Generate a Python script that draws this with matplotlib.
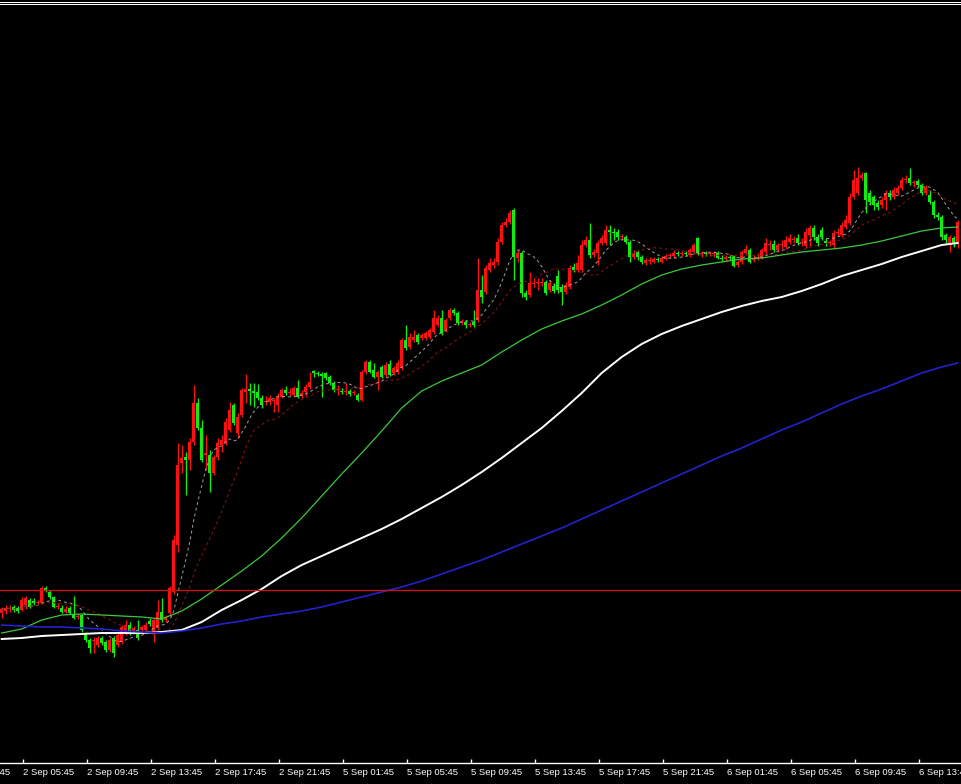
import numpy as np
import pandas as pd
import matplotlib
matplotlib.use("Agg")
import matplotlib.pyplot as plt
from matplotlib.lines import Line2D
from matplotlib.transforms import offset_copy

# ---- M15 candles (price units) ----
opens = [187,189,191,193,192,190,195,200,199,197,197,212,208,203,193,192,188,192,186,183,
         185,166,160,159,155,162,158,150,162,155,158,167,175,168,170,170,170,179,167,172,
         188,180,187,208,255,337,343,340,358,397,372,345,345,327,343,355,357,370,395,367,
         385,408,411,409,408,402,398,398,399,395,403,410,407,405,412,404,408,413,429,427,
         426,427,423,417,410,409,408,409,407,405,400,428,438,430,423,433,425,436,427,428,
         432,460,453,460,465,462,462,463,468,475,482,470,482,490,487,478,478,475,478,480,
         510,508,530,535,538,558,575,578,590,542,547,507,505,516,517,517,518,510,514,524,
         513,508,513,533,530,530,555,560,545,547,557,557,570,568,568,563,563,558,543,548,
         543,537,539,538,541,538,541,544,544,547,546,547,545,548,562,545,547,546,546,547,
         542,541,543,543,535,538,547,550,540,542,543,548,555,556,550,555,553,558,560,562,
         557,554,565,572,563,570,559,557,555,567,565,573,577,603,607,622,627,607,603,597,
         595,600,607,603,607,612,620,622,617,619,615,607,605,598,585,583,565,555,562,557]
highs = [193,195,195,195,194,203,204,202,202,200,214,214,210,204,197,195,194,194,204,186,
         186,168,162,163,164,164,160,162,164,167,175,180,178,174,180,175,178,182,182,200,
         202,185,214,265,357,355,348,362,415,402,380,365,350,345,362,365,382,398,397,387,
         412,426,417,417,416,405,404,405,402,407,412,414,412,414,420,410,416,428,430,429,
         428,428,425,419,415,412,417,411,410,407,430,440,440,437,430,435,438,440,434,440,
         462,475,467,470,467,467,469,472,490,485,490,482,492,492,489,481,480,478,490,542,
         525,535,542,542,562,578,582,590,592,550,549,510,528,522,522,522,520,520,517,530,
         516,518,535,537,545,560,564,577,551,560,565,575,575,572,571,566,565,560,550,550,
         545,542,543,543,543,544,546,547,550,549,549,549,552,557,563,549,549,548,549,549,
         545,545,545,545,540,550,555,552,545,547,552,562,560,560,557,560,564,566,564,566,
         562,572,575,575,566,573,562,560,570,572,578,585,607,630,633,628,628,610,605,600,
         603,610,610,613,615,623,625,632,620,621,617,615,610,600,588,585,567,565,564,580]
lows = [182,186,188,188,187,189,191,192,195,196,196,208,201,192,191,187,187,186,181,181,
        168,158,147,147,153,155,148,148,143,153,156,165,165,166,160,168,168,174,158,170,
        178,178,185,206,248,327,305,330,355,370,338,330,308,325,340,348,355,368,375,362,
        383,397,395,393,400,392,395,395,388,388,402,405,404,403,402,402,404,411,423,424,
        403,420,415,408,405,406,405,404,405,399,399,426,427,422,410,422,423,424,425,426,
        430,450,451,458,456,460,460,461,466,473,465,468,480,485,475,475,472,473,473,478,
        497,506,528,532,535,556,573,576,520,538,503,500,503,513,510,514,505,508,507,507,
        495,506,511,528,528,528,553,542,543,535,555,555,555,560,560,560,556,538,541,540,
        536,535,536,537,538,537,540,542,542,544,544,544,543,546,545,543,544,544,543,541,
        539,539,540,533,533,536,545,537,538,540,541,546,550,548,548,551,551,556,557,555,
        554,552,554,560,554,560,554,554,552,564,563,571,575,601,605,620,587,595,590,590,
        592,590,600,601,605,610,617,615,613,613,605,605,596,582,580,560,557,548,553,552]
closes = [191,192,192,190,189,200,202,193,197,198,212,209,203,193,193,188,191,187,182,184,
          170,160,152,160,162,157,150,160,147,165,173,175,168,172,162,173,175,176,180,188,
          180,183,212,260,335,342,340,358,397,372,340,347,327,343,357,360,378,390,377,383,
          410,411,409,407,402,395,399,402,399,403,410,407,407,412,403,407,413,418,427,426,
          424,422,417,410,410,408,408,406,407,400,428,438,428,423,428,423,435,425,432,437,
          460,452,463,463,458,465,467,470,482,482,467,480,490,487,477,478,475,476,475,510,
          503,532,537,538,558,575,578,587,543,547,507,503,517,517,517,518,507,517,509,510,
          508,515,532,530,537,555,560,545,548,557,562,570,568,567,563,563,558,543,547,543,
          538,540,539,541,540,542,544,544,547,546,547,546,550,555,547,547,546,546,546,542,
          541,543,542,534,538,548,551,538,542,543,550,557,555,550,555,555,560,562,560,557,
          558,568,572,563,557,563,557,557,567,568,575,580,603,620,622,625,600,598,595,593,
          600,607,603,610,612,620,620,617,617,615,607,613,598,585,583,563,560,563,557,578]

# ---- moving averages, every 5 bars (price) ----
ma_idx = list(range(0, 236, 5)) + [239]
ma_green = [167,171,180,185,186,185,184,183,181,189,201,215,229,244,262,282,304,326,347,369,
            392,409,419,427,435,448,460,471,479,486,495,505,516,525,531,535,538,541,542,545,
            548,550,552,555,559,564,569,572,573]
ma_white = [161,162,164,165,166,167,167,167,168,170,178,190,200,211,224,235,244,253,262,271,
            281,292,303,315,328,342,357,372,389,407,427,443,456,466,474,481,488,494,499,503,
            509,516,524,530,536,543,549,555,557]
ma_blue = [175,174,173,173,172,171,169,168,167,169,172,176,179,183,186,189,193,198,203,208,
           213,219,226,233,240,248,256,264,272,281,290,299,308,317,326,335,344,352,361,370,
           378,387,396,404,411,419,427,433,437]
level = 210

tick_labels = ["2 Sep 05:45", "2 Sep 09:45", "2 Sep 13:45", "2 Sep 17:45", "2 Sep 21:45",
               "5 Sep 01:45", "5 Sep 05:45", "5 Sep 09:45", "5 Sep 13:45", "5 Sep 17:45",
               "5 Sep 21:45", "6 Sep 01:45", "6 Sep 05:45", "6 Sep 09:45", "6 Sep 13:45"]
first_label = "2 Sep 01:45"

o = np.array(opens, float); c = np.array(closes, float)
h = np.array(highs, float); l = np.array(lows, float)
n = len(c)
x = np.arange(n)

fig = plt.figure(figsize=(9.61, 7.84), dpi=100, facecolor='black')
ax = fig.add_axes([0, 21/784, 1, 755/784])
ax.set_facecolor('black')
ax.set_xlim(-0.425, n - 0.175)
ax.set_ylim(37, 792)

up = c >= o
col = np.where(up, '#ff1010', '#10ee10')
ax.vlines(x, l, h, colors=col, linewidth=1.0, zorder=3)
bottoms = np.minimum(o, c)
heights = np.maximum(np.abs(c - o), 0.9)
ax.bar(x, heights, bottom=bottoms, width=0.74, color=col, linewidth=0, zorder=4)

s = pd.Series(c)
ax.plot(x, s.rolling(10, min_periods=1).mean(), color='#a0a0a0', lw=0.7,
        ls=(0, (3, 3)), zorder=5)
ax.plot(x, s.rolling(20, min_periods=1).mean(), color='#8c1414', lw=0.7,
        ls=(0, (3, 3)), zorder=5)

ax.plot(ma_idx, ma_green, color='#3cc83c', lw=0.9, zorder=6)
ax.plot(ma_idx, ma_white, color='white', lw=1.4, zorder=6)
ax.plot(ma_idx, ma_blue, color='#2222cc', lw=1.2, zorder=6)
ax.axhline(level, color='#c81414', lw=1.0, zorder=7)

lab_font = dict(family='Liberation Sans', size=6.8)
tick_pos = [5.25 + 16 * k for k in range(len(tick_labels))]
ax.set_xticks(tick_pos, tick_labels)
ax.tick_params(axis='x', direction='in', length=3, width=1, colors='white', pad=3.5)
for t in ax.get_xticklabels():
    t.set_ha('left')
    t.set_fontfamily(lab_font['family'])
    t.set_fontsize(lab_font['size'])
ax.set_yticks([])
for sp in ('top', 'left', 'right'):
    ax.spines[sp].set_visible(False)
ax.spines['bottom'].set_color('white')
ax.spines['bottom'].set_linewidth(1)

tr = offset_copy(ax.get_xaxis_transform(), fig=fig, y=-3.5, units='points')
ax.text(tick_pos[0] - 16, 0, first_label, transform=tr, ha='left', va='top',
        fontfamily=lab_font['family'], fontsize=lab_font['size'], color='white',
        clip_on=False)

for yy in (1.5, 3.5):
    fig.add_artist(Line2D([0, 1], [1 - yy/784, 1 - yy/784], transform=fig.transFigure,
                          color='white', lw=0.75))

fig.savefig('out.png', dpi=100, facecolor='black')
